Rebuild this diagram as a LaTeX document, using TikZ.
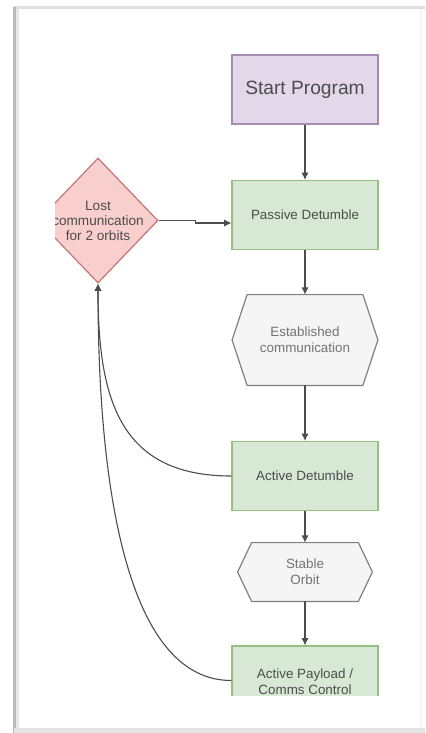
\documentclass[tikz,border=0pt]{standalone}
\usepackage{fontspec}
\setmainfont{Liberation Sans}
\usetikzlibrary{shapes.geometric, arrows.meta, calc, backgrounds}

\definecolor{startfill}{HTML}{E3D8E9}
\definecolor{startline}{HTML}{A68BB5}
\definecolor{stepfill}{HTML}{D7E9D5}
\definecolor{stepline}{HTML}{96BF84}
\definecolor{lostfill}{HTML}{F8CFCD}
\definecolor{lostline}{HTML}{C67572}
\definecolor{hexfill}{HTML}{F5F5F5}
\definecolor{hexline}{HTML}{808080}

\begin{document}
\begin{tikzpicture}[
  x=0.5pt, y=-0.5pt,
  stepbox/.style={rectangle, draw=stepline, line width=0.6pt, fill=stepfill, minimum width=73pt, minimum height=34.5pt, align=center, text=black!70, font=\fontsize{6.7pt}{8pt}\selectfont},
  startbox/.style={stepbox, draw=startline, fill=startfill, font=\fontsize{9.6pt}{11pt}\selectfont},
  hexnode/.style={rectangle, inner sep=0pt, align=center, text=black!55, font=\fontsize{6.7pt}{8pt}\selectfont},
  hexshape/.style={draw=hexline, fill=hexfill, line width=0.6pt},
  decision/.style={diamond, draw=lostline, fill=lostfill, line width=0.6pt, minimum width=60pt, minimum height=62.5pt, inner sep=0pt},
  arr/.style={-{Latex[length=3.6pt,width=3.6pt]}, draw=black!70, line width=0.55pt},
  frame/.style={fill=#1, draw=none}
]
\useasboundingbox (0,0) rectangle (425,733);

% Window frame
\fill[frame=gray!25] (13,6) rectangle (425,9);
\fill[frame=gray!55] (13,7) rectangle (16,733);
\fill[frame=gray!18] (16,9) rectangle (19,733);
\fill[frame=gray!22] (14,728) rectangle (425,733);
\fill[frame=gray!8] (420,9) rectangle (422,728);

\begin{scope}
\clip (55,9) rectangle (420,695);

% Main flow
\node[startbox] (start) at (305,89.5) {Start Program};
\node[stepbox] (passive) at (305,215) {Passive Detumble};
\node[hexnode, minimum width=72.5pt, minimum height=45pt] (estab) at (305,340) {Established\\communication};
\node[stepbox] (active) at (305,476) {Active Detumble};
\node[hexnode, minimum width=67pt, minimum height=29pt] (orbit) at (305,572) {Stable\\Orbit};
\node[stepbox] (payload) at (305,680.5) {\\[-2pt]Active Payload /\\Comms Control};

% Decision
\node[decision] (lost) at (98,220.5) {};
\node[text=black!70, align=center, font=\fontsize{6.8pt}{7.5pt}\selectfont] (losttext) at (lost.center) {Lost\\communication\\for 2 orbits};

% Hexagon outlines
\begin{scope}[on background layer]
\foreach \n/\d in {estab/15, orbit/14}
  \filldraw[hexshape] (\n.west) -- ($(\n.north west)+(\d,0)$) -- ($(\n.north east)+(-\d,0)$)
    -- (\n.east) -- ($(\n.south east)+(-\d,0)$) -- ($(\n.south west)+(\d,0)$) -- cycle;
\end{scope}

% Connections
\draw[arr] (start) -- (passive);
\draw[arr] (passive) -- (estab);
\draw[arr] (estab) -- (active);
\draw[arr] (active) -- (orbit);
\draw[arr] (orbit) -- (payload);
\draw[arr] (lost.east) -- ++(37,0) |- ([yshift=-4pt]passive.west);
\draw[arr] (active.west) .. controls (120,476) and (98,400) .. (lost.south);
\draw[arr] (payload.west) .. controls (110,680.5) and (98,420) .. (lost.south);
\end{scope}

\end{tikzpicture}
\end{document}
